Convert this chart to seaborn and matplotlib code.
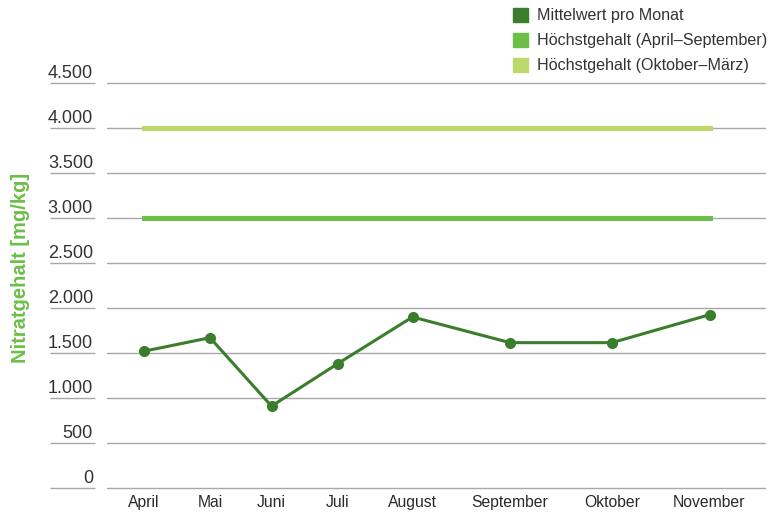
import numpy as np
import pandas as pd
import seaborn as sns
import matplotlib.pyplot as plt
from matplotlib.patches import Patch

# Data
months = ['April', 'Mai', 'Juni', 'Juli', 'August', 'September', 'Oktober', 'November']
nitrat = [1520, 1670, 910, 1380, 1900, 1615, 1615, 1925]
limit_summer = 3000
limit_winter = 4000
y_ticks = [0, 500, 1000, 1500, 2000, 2500, 3000, 3500, 4000, 4500]
y_tick_labels = ['0', '500', '1.000', '1.500', '2.000', '2.500', '3.000', '3.500', '4.000', '4.500']
legend_labels = ['Mittelwert pro Monat', 'Höchstgehalt (April–September)', 'Höchstgehalt (Oktober–März)']

DARK = '#3a7d2c'
MID = '#6cbf46'
LIGHT = '#bdd86a'
GRID = '#a8a8a8'
TEXT = '#2a2a2a'

sns.set_theme(style='white')
plt.rcParams['font.family'] = ['Liberation Sans', 'DejaVu Sans']

# month columns are spaced by the width of their labels
lens = [len(m) for m in months]
gaps = [30 + 4.5 * (a + b) for a, b in zip(lens[:-1], lens[1:])]
pos = np.concatenate([[0], np.cumsum(gaps)])
df = pd.DataFrame({'pos': pos, 'wert': nitrat, 'monat': months})

fig = plt.figure(figsize=(7.82, 5.16), dpi=100)
ax = fig.add_axes([107 / 782, 28 / 516, 658 / 782, 405 / 516])

# grid
for v in y_ticks:
    ax.axhline(v, color=GRID, lw=1.0, zorder=0, clip_on=False)
    ax.plot([-0.0866, -0.0182], [v, v], transform=ax.get_yaxis_transform(),
            color=GRID, lw=1.0, clip_on=False, solid_capstyle='butt')

# limit lines
ax.hlines([limit_winter], pos[0], pos[-1], color=LIGHT, lw=3.6, capstyle='projecting', zorder=2)
ax.hlines([limit_summer], pos[0], pos[-1], color=MID, lw=3.6, capstyle='projecting', zorder=2)

sns.lineplot(data=df, x='pos', y='wert', ax=ax, color=DARK, lw=2.2,
             marker='o', markersize=8, markeredgewidth=0, zorder=3)

ax.set_xlim(-37, 621)
ax.set_ylim(0, 4500)
ax.set_xticks(pos)
ax.set_xticklabels(months, fontsize=11.3, color=TEXT)
ax.tick_params(axis='x', length=0, pad=5)
ax.set_yticks([])
ax.set_xlabel('')
ax.set_ylabel('')
sns.despine(ax=ax, left=True, bottom=True)

for v, lab in zip(y_ticks, y_tick_labels):
    ax.annotate(lab, xy=(0, v), xycoords=ax.get_yaxis_transform(),
                xytext=(-14, 5), textcoords='offset pixels',
                ha='right', va='baseline', fontsize=13, color='#333333')

fig.text(21 / 782, 1 - 268 / 516, 'Nitratgehalt [mg/kg]', rotation=90,
         ha='center', va='center', fontsize=14.5, fontweight='bold', color=MID)

handles = [Patch(color=DARK), Patch(color=MID), Patch(color=LIGHT)]
fig.legend(handles, legend_labels, loc='upper left', bbox_to_anchor=(513 / 782, 1 - 8 / 516),
           frameon=False, fontsize=11.6, handlelength=0.95, handleheight=0.95,
           handletextpad=0.55, labelspacing=0.58, borderpad=0, borderaxespad=0,
           labelcolor='#333333')

fig.savefig('out.png', dpi=100)
